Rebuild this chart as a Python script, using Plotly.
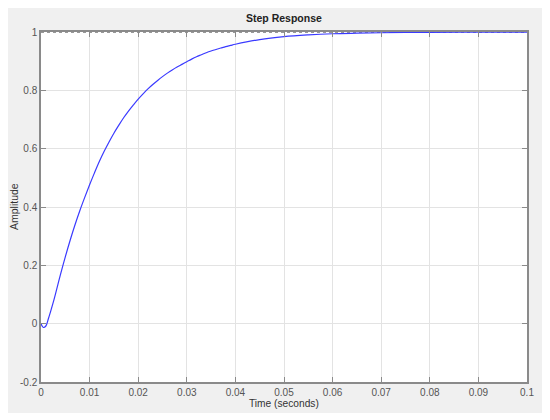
import plotly.graph_objects as go

# Step response samples
time_s = [0, 0.0005, 0.001, 0.0015, 0.002, 0.0025, 0.003,
          0.004, 0.005, 0.006, 0.007, 0.008, 0.009, 0.010,
          0.011, 0.012, 0.013, 0.014, 0.015, 0.016, 0.017, 0.018, 0.019, 0.020,
          0.021, 0.022, 0.023, 0.024, 0.025, 0.026, 0.027, 0.028, 0.029, 0.030,
          0.031, 0.032, 0.033, 0.034, 0.035, 0.036, 0.037, 0.038, 0.039, 0.040,
          0.045, 0.050, 0.055, 0.060, 0.065, 0.070, 0.075, 0.080, 0.090, 0.100]
amplitude = [0, -0.013, -0.008, 0.016, 0.043, 0.072, 0.103,
             0.168, 0.229, 0.286, 0.339, 0.388, 0.433, 0.476,
             0.517, 0.556, 0.591, 0.623, 0.653, 0.680, 0.706, 0.729, 0.750, 0.770,
             0.788, 0.805, 0.820, 0.834, 0.847, 0.859, 0.870, 0.880, 0.889, 0.898,
             0.907, 0.915, 0.922, 0.929, 0.935, 0.940, 0.945, 0.950, 0.954, 0.958,
             0.974, 0.984, 0.990, 0.994, 0.996, 0.9975, 0.9985, 0.999, 0.9997, 0.9999]
steady_t = [0, 0.1]
steady_y = [1, 1]

x_ticks = [0, 0.01, 0.02, 0.03, 0.04, 0.05, 0.06, 0.07, 0.08, 0.09, 0.1]
x_labels = ["0", "0.01", "0.02", "0.03", "0.04", "0.05", "0.06", "0.07", "0.08", "0.09", "0.1"]
y_ticks = [-0.2, 0, 0.2, 0.4, 0.6, 0.8, 1]
y_labels = ["-0.2", "0", "0.2", "0.4", "0.6", "0.8", "1"]

FONT = "Liberation Sans, Arial, sans-serif"

fig = go.Figure()
fig.add_trace(go.Scatter(x=steady_t, y=steady_y, mode="lines",
                         line=dict(color="#333333", width=1, dash="dot"),
                         hoverinfo="skip", showlegend=False))
fig.add_trace(go.Scatter(x=time_s, y=amplitude, mode="lines",
                         line=dict(color="#3a3aff", width=1.2, shape="spline", smoothing=1),
                         showlegend=False))

# figure sits at (8, 8) in the page because of the body margin
W, H = 537, 405
L, R, T, B = 33, 18, 24, 31
pw, ph = W - L - R, H - T - B

axis_common = dict(
    showgrid=True, gridcolor="#e3e3e3", gridwidth=1,
    showline=True, linecolor="#8a8a8a", linewidth=1.5, mirror="allticks",
    ticks="inside", ticklen=5, tickcolor="#8a8a8a", tickwidth=1,
    zeroline=False, automargin=False,
    tickfont=dict(family=FONT, size=10, color="#555555"),
)

fig.update_layout(
    width=W, height=H,
    margin=dict(l=L, r=R, t=T, b=B, autoexpand=False),
    paper_bgcolor="#f0f0f0", plot_bgcolor="white",
    xaxis=dict(range=[0, 0.1], tickvals=x_ticks, ticktext=x_labels, **axis_common),
    yaxis=dict(range=[-0.2, 1], tickvals=y_ticks, ticktext=y_labels, **axis_common),
    annotations=[
        dict(text="<b>Step Response</b>", xref="paper", yref="paper",
             x=0.5, y=(H - B - 10) / ph, xanchor="center", yanchor="middle",
             showarrow=False, font=dict(family=FONT, size=10.5, color="#222222")),
        dict(text="Time (seconds)", xref="paper", yref="paper",
             x=0.5, y=(H - B - 395) / ph, xanchor="center", yanchor="middle",
             showarrow=False, font=dict(family=FONT, size=10.2, color="#333333")),
        dict(text="Amplitude", xref="paper", yref="paper",
             x=(6 - L) / pw, y=0.5, xanchor="center", yanchor="middle", textangle=-90,
             showarrow=False, font=dict(family=FONT, size=10.5, color="#333333")),
    ],
)

fig.write_html("out.html")
